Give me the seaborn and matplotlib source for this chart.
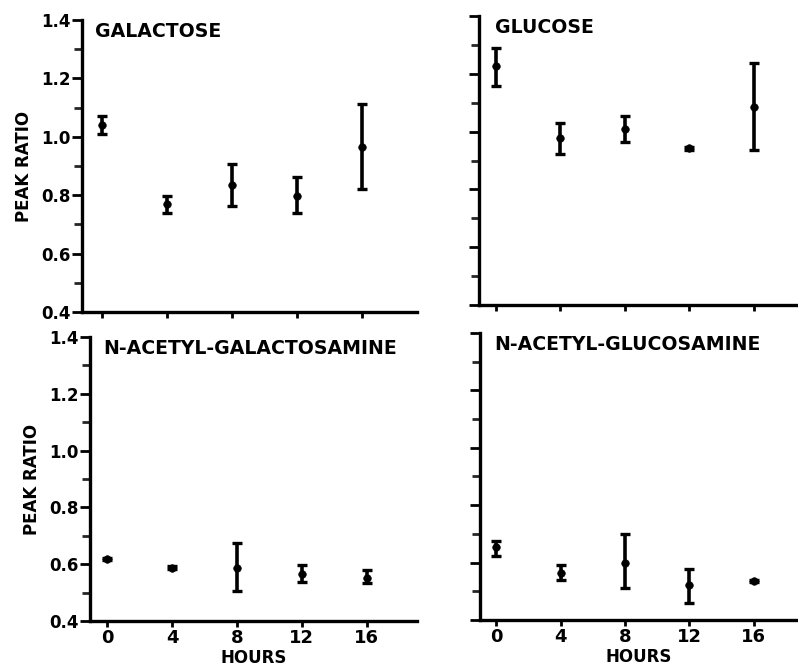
import numpy as np
import pandas as pd
import matplotlib
matplotlib.use("Agg")
import matplotlib.pyplot as plt
import seaborn as sns
from matplotlib.ticker import MultipleLocator, FuncFormatter

hours = [0, 4, 8, 12, 16]
panels = ["GALACTOSE", "GLUCOSE", "N-ACETYL-GALACTOSAMINE", "N-ACETYL-GLUCOSAMINE"]

gal_mean = [1.04, 0.77, 0.835, 0.797, 0.965]
gal_lo = [1.01, 0.739, 0.763, 0.739, 0.82]
gal_hi = [1.071, 0.797, 0.907, 0.862, 1.112]

glc_mean = [1.227, 0.978, 1.01, 0.943, 1.085]
glc_lo = [1.158, 0.923, 0.965, 0.938, 0.936]
glc_hi = [1.29, 1.03, 1.054, 0.948, 1.237]

galnac_mean = [0.618, 0.588, 0.588, 0.566, 0.553]
galnac_lo = [0.613, 0.583, 0.504, 0.536, 0.532]
galnac_hi = [0.623, 0.593, 0.675, 0.597, 0.578]

glcnac_mean = [0.653, 0.565, 0.60, 0.523, 0.537]
glcnac_lo = [0.624, 0.54, 0.51, 0.46, 0.533]
glcnac_hi = [0.674, 0.59, 0.70, 0.578, 0.541]

means = [gal_mean, glc_mean, galnac_mean, glcnac_mean]
los = [gal_lo, glc_lo, galnac_lo, glcnac_lo]
his = [gal_hi, glc_hi, galnac_hi, glcnac_hi]

sns.set_theme(style="ticks")
plt.rcParams['font.family'] = ['DejaVu Sans']
plt.rcParams['font.weight'] = 'bold'

fig = plt.figure(figsize=(7.98, 6.68), dpi=100)
rects = [
    [0.1028, 0.5329, 0.4198, 0.4371],
    [0.6003, 0.5434, 0.3997, 0.4326],
    [0.1128, 0.0704, 0.4098, 0.4251],
    [0.6015, 0.0719, 0.3985, 0.4296],
]
xlims = [(-1.23, 19.4), (-1.05, 18.75), (-1.05, 19.1), (-1.0, 18.75)]
title_x = [13, 16, 13, 14]

for i, name in enumerate(panels):
    ax = fig.add_axes(rects[i])
    df = pd.DataFrame({"hours": hours, "ratio": means[i]})
    yerr = np.array([np.array(means[i]) - np.array(los[i]),
                     np.array(his[i]) - np.array(means[i])])
    ax.errorbar(hours, means[i], yerr=yerr, fmt='none', ecolor='black',
                elinewidth=2.6, capsize=3.8, capthick=2.4, zorder=2)
    sns.scatterplot(data=df, x="hours", y="ratio", ax=ax, color='black',
                    s=30, edgecolor='black', zorder=3, legend=False)
    ax.set_xlim(*xlims[i])
    ax.set_ylim(0.4, 1.4)
    ax.yaxis.set_major_locator(MultipleLocator(0.2))
    ax.yaxis.set_minor_locator(MultipleLocator(0.1))
    ax.set_xticks(hours)
    for s in ["top", "right"]:
        ax.spines[s].set_visible(False)
    for s in ["left", "bottom"]:
        ax.spines[s].set_linewidth(2.4)
        ax.spines[s].set_color('black')
    ax.tick_params(axis='y', which='major', length=7, width=2, direction='out',
                   labelsize=12, pad=1, colors='black')
    ax.tick_params(axis='y', which='minor', length=6, width=2, direction='out')
    ax.tick_params(axis='x', which='major', length=4, width=2, direction='out',
                   labelsize=13, pad=2, colors='black')
    ax.set_facecolor('white')
    w_px = rects[i][2] * 798
    h_px = rects[i][3] * 668
    ax.text(title_x[i] / w_px, 1.0 - 2 / h_px, name, transform=ax.transAxes,
            ha='left', va='top', fontsize=13.6, fontweight='bold', color='black')
    if i in (0, 2):
        ax.yaxis.set_major_formatter(FuncFormatter(lambda v, p: f"{v:.1f}"))
        ax.set_ylabel("PEAK RATIO", fontsize=12, fontweight='bold', labelpad=6, color='black')
    else:
        ax.set_yticklabels([])
        ax.set_ylabel("")
    if i in (2, 3):
        ax.set_xlabel("HOURS", fontsize=12, fontweight='bold', labelpad=1, color='black')
    else:
        ax.set_xticklabels([])
        ax.set_xlabel("")

fig.savefig("out.png", dpi=100, facecolor='white')
